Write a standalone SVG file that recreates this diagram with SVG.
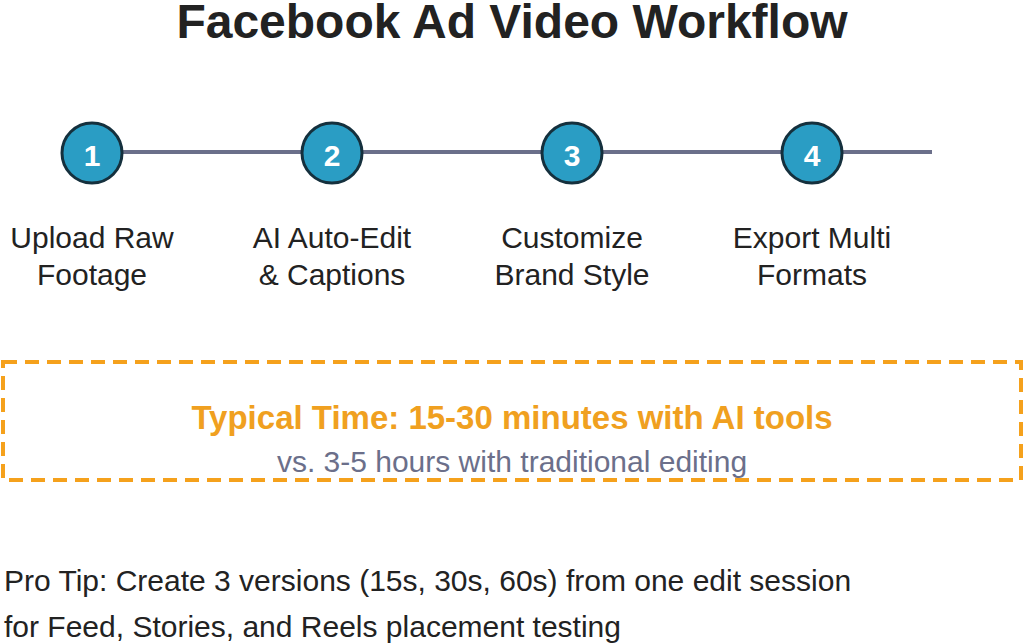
<svg xmlns="http://www.w3.org/2000/svg" width="1024" height="643" viewBox="0 0 1024 643">
<style>
.t{font-family:"Liberation Sans",Arial,sans-serif}
.lbl{font-size:30px;fill:#222;text-anchor:middle}
.num{font-size:30px;font-weight:bold;fill:#fff;text-anchor:middle}
.c{fill:#2a9dc4;stroke:#15303d;stroke-width:3}
</style>
<rect width="1024" height="643" fill="#fff"/>
<text class="t" x="512" y="38" font-size="48" font-weight="bold" fill="#222" text-anchor="middle">Facebook Ad Video Workflow</text>
<g id="connectors">
<line x1="92" y1="152" x2="932" y2="152" stroke="#6b6f8a" stroke-width="4"/>
</g>
<g id="step1"><circle class="c" cx="92" cy="153" r="30"/><text class="t num" x="92" y="166">1</text>
<text class="t lbl" x="92" y="248">Upload Raw</text><text class="t lbl" x="92" y="285">Footage</text></g>
<g id="step2"><circle class="c" cx="332" cy="153" r="30"/><text class="t num" x="332" y="166">2</text>
<text class="t lbl" x="332" y="248">AI Auto-Edit</text><text class="t lbl" x="332" y="285">&amp; Captions</text></g>
<g id="step3"><circle class="c" cx="572" cy="153" r="30"/><text class="t num" x="572" y="166">3</text>
<text class="t lbl" x="572" y="248">Customize</text><text class="t lbl" x="572" y="285">Brand Style</text></g>
<g id="step4"><circle class="c" cx="812" cy="153" r="30"/><text class="t num" x="812" y="166">4</text>
<text class="t lbl" x="812" y="248">Export Multi</text><text class="t lbl" x="812" y="285">Formats</text></g>
<g id="timebox">
<rect x="3" y="362" width="1018" height="118" fill="none" stroke="#f5a11c" stroke-width="4" stroke-dasharray="14 8"/>
<text class="t" x="512" y="429" font-size="33" font-weight="bold" fill="#f0a020" text-anchor="middle">Typical Time: 15-30 minutes with AI tools</text>
<text class="t" x="512" y="472" font-size="30" fill="#6b6f8a" text-anchor="middle">vs. 3-5 hours with traditional editing</text>
</g>
<g id="tip">
<text class="t" x="4" y="591" font-size="30" fill="#222">Pro Tip: Create 3 versions (15s, 30s, 60s) from one edit session</text>
<text class="t" x="4" y="637" font-size="30" fill="#222">for Feed, Stories, and Reels placement testing</text>
</g>
</svg>
